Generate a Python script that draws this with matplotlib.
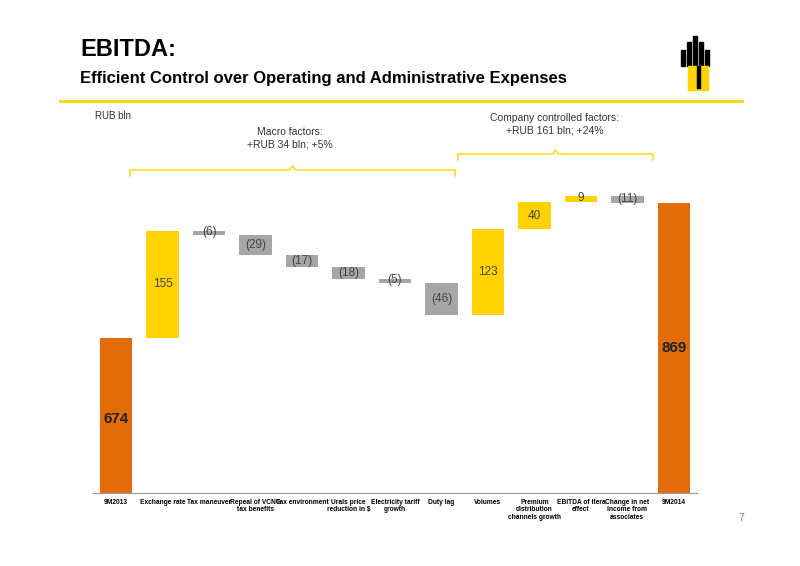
import matplotlib.pyplot as plt
import matplotlib.patches as patches

plt.rcParams['font.family'] = ['Liberation Sans', 'DejaVu Sans']

categories = ['9M2013', 'Exchange rate', 'Tax maneuver', 'Repeal of VCNG\ntax benefits', 'Tax environment',
              'Urals price\nreduction in $', 'Electricity tariff\ngrowth', 'Duty lag', 'Volumes',
              'Premium\ndistribution\nchannels growth', 'EBITDA of Itera\neffect', 'Change in net\nincome from\nassociates', '9M2014']
changes = [674, 155, -6, -29, -17, -18, -5, -46, 123, 40, 9, -11, 869]
labels = ['674', '155', '(6)', '(29)', '(17)', '(18)', '(5)', '(46)', '123', '40', '9', '(11)', '869']

ORANGE = '#E36C0A'
YELLOW = '#FFD200'
GREY = '#A6A6A6'

W, H = 800, 566
fig = plt.figure(figsize=(8, 5.66), dpi=100)

def fx(px):
    return px / W

def fy(py):
    return 1 - py / H

ax = fig.add_axes([fx(93), fy(493), fx(697) - fx(93), fy(190) - fy(493)])
ymin = 450
ax.set_ylim(ymin, 888)
ax.set_xlim(-0.5, len(categories) - 0.5)

running = 0
for i, v in enumerate(changes):
    if i == 0 or i == len(changes) - 1:
        running = v
        ax.bar(i, v - ymin, bottom=ymin, width=0.7, color=ORANGE)
        ax.text(i, 557 if i == 0 else 659, labels[i], ha='center', va='center',
                fontsize=11, fontweight='bold', color='#222222')
        continue
    start = running
    running += v
    col = YELLOW if v > 0 else GREY
    bottom = min(start, running)
    ax.bar(i, max(abs(v), 3), bottom=bottom, width=0.7, color=col)
    ax.text(i, bottom + abs(v) / 2 + (1 if abs(v) < 15 else 0), labels[i], ha='center', va='center',
            fontsize=8.5, color='#444444')

ax.set_xticks(range(len(categories)))
ax.set_xticklabels(categories, fontsize=4.8, fontweight='bold', va='top', linespacing=1.1)
ax.tick_params(axis='x', length=0, pad=4)
ax.set_yticks([])
for s in ['top', 'right', 'left']:
    ax.spines[s].set_visible(False)
ax.spines['bottom'].set_color('#999999')

# header
fig.text(fx(80), fy(50), 'EBITDA:', fontsize=17, fontweight='bold', va='center')
fig.text(fx(80), fy(78), 'Efficient Control over Operating and Administrative Expenses',
         fontsize=12, fontweight='bold', va='center')
fig.add_artist(plt.Line2D([fx(60), fx(742)], [fy(101), fy(101)], color=YELLOW, lw=2))
fig.text(fx(95), fy(116), 'RUB bln', fontsize=7, va='center', color='#333333')
fig.text(fx(738), fy(518), '7', fontsize=7.5, va='center', color='#888888')

# logo
for x0, hgt in [(681, 16), (687, 24), (693, 30), (699, 24), (705, 16)]:
    fig.add_artist(patches.Rectangle((fx(x0), fy(66)), fx(4), hgt / H, color='black'))
fig.add_artist(patches.Rectangle((fx(688), fy(90)), fx(20), 24 / H, color=YELLOW))
fig.add_artist(patches.Rectangle((fx(697), fy(88)), fx(3), 22 / H, color='black'))

# brackets
def bracket(x0, x1, ytop, ybot):
    xm = (x0 + x1) / 2
    xs = [x0, x0, xm - 3, xm, xm + 3, x1, x1]
    ys = [ybot, ytop + 4, ytop + 4, ytop, ytop + 4, ytop + 4, ybot]
    fig.add_artist(plt.Line2D([fx(x) for x in xs], [fy(y) for y in ys], color=YELLOW, lw=1))

bracket(130, 455, 166, 176)
bracket(458, 653, 150, 160)
fig.text(fx(290), fy(138), 'Macro factors:\n+RUB 34 bln; +5%', ha='center', va='center',
         fontsize=7.5, color='#333333', linespacing=1.3)
fig.text(fx(555), fy(124), 'Company controlled factors:\n+RUB 161 bln; +24%', ha='center', va='center',
         fontsize=7.5, color='#333333', linespacing=1.3)

fig.savefig('out.png', dpi=100)
